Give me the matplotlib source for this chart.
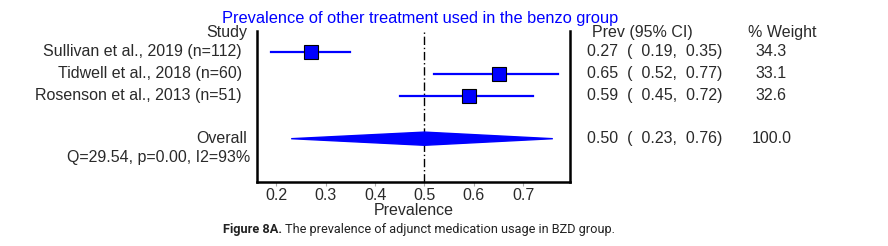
import numpy as np
import matplotlib.pyplot as plt
from matplotlib.patches import Polygon
from matplotlib.transforms import blended_transform_factory

plt.rcParams['font.family'] = ['Liberation Sans', 'DejaVu Sans']

# data
studies = ["Sullivan et al., 2019 (n=112)", "Tidwell et al., 2018 (n=60)", "Rosenson et al., 2013 (n=51)"]
prev = [0.27, 0.65, 0.59]
lower = [0.19, 0.52, 0.45]
upper = [0.35, 0.77, 0.72]
weight = [34.3, 33.1, 32.6]
overall = (0.50, 0.23, 0.76)
overall_weight = 100.0
het_text = "Q=29.54, p=0.00, I2=93%"
xticks = [0.2, 0.3, 0.4, 0.5, 0.6, 0.7]

fig = plt.figure(figsize=(8.88, 2.46), dpi=100)
ax = fig.add_axes([0.289, 0.262, 0.353, 0.612])

ys = np.arange(len(studies))
y_over = 3.95
txt = '#2a2a2a'

# reference line at pooled estimate
ax.axvline(overall[0], color='black', lw=1, linestyle=(0, (6, 2, 1, 2)), zorder=1)

# study CIs and squares
for y, p, lo, hi, w in zip(ys, prev, lower, upper, weight):
    ax.plot([lo, hi], [y, y], color='blue', lw=1.6, zorder=2)
    ax.plot(p, y, marker='s', color='blue', mec='black', mew=0.8,
            ms=10 * np.sqrt(w / max(weight)), zorder=3)

# overall diamond
h = 0.3
diamond = Polygon([[overall[1], y_over], [overall[0], y_over - h],
                   [overall[2], y_over], [overall[0], y_over + h]],
                  closed=True, color='blue', zorder=3)
ax.add_patch(diamond)

fs = 11.5
ax.set_xlim(0.16, 0.795)
ax.set_ylim(5.9, -0.95)
ax.set_yticks([])
ax.set_xticks(xticks)
ax.set_xticklabels([f"{t:.1f}" for t in xticks])
ax.tick_params(axis='x', length=3, color='#aaaaaa', labelsize=fs, labelcolor=txt, pad=2)
ax.spines['top'].set_visible(False)
for s in ['left', 'right', 'bottom']:
    ax.spines[s].set_linewidth(1.8)
ax.set_xlabel("Prevalence", fontsize=fs, color=txt, labelpad=0)

# text columns
tr = blended_transform_factory(fig.transFigure, ax.transData)
ax.text(247 / 888, -0.86, "Study", transform=tr, ha='right', va='center', fontsize=fs, color=txt)
for y, name in zip(ys, studies):
    ax.text(242 / 888, y, name, transform=tr, ha='right', va='center', fontsize=fs, color=txt)
ax.text(247 / 888, y_over, "Overall", transform=tr, ha='right', va='center', fontsize=fs, color=txt)
ax.text(250 / 888, y_over + 0.86, het_text, transform=tr, ha='right', va='center', fontsize=fs, color=txt)

ax.text(592 / 888, -0.86, "Prev (95% CI)", transform=tr, ha='left', va='center', fontsize=fs, color=txt)
ax.text(748 / 888, -0.86, "% Weight", transform=tr, ha='left', va='center', fontsize=fs, color=txt)
for y, p, lo, hi, w in zip(ys, prev, lower, upper, weight):
    ax.text(587 / 888, y, f"{p:.2f}  (  {lo:.2f},  {hi:.2f})", transform=tr,
            ha='left', va='center', fontsize=fs, color=txt)
    ax.text(755 / 888, y, f"{w:.1f}", transform=tr, ha='left', va='center', fontsize=fs, color=txt)
ax.text(587 / 888, y_over, f"{overall[0]:.2f}  (  {overall[1]:.2f},  {overall[2]:.2f})", transform=tr,
        ha='left', va='center', fontsize=fs, color=txt)
ax.text(752 / 888, y_over, f"{overall_weight:.1f}", transform=tr, ha='left', va='center', fontsize=fs, color=txt)

fig.text(420 / 888, 1 - 18 / 246, "Prevalence of other treatment used in the benzo group",
         ha='center', va='center', fontsize=11.8, color='blue')

# caption: bold label followed by normal text
cap1 = fig.text(223 / 888, 1 - 229 / 246, "Figure 8A.", ha='left', va='center', fontsize=9.2,
                fontweight='bold', family='Roboto', color='#222222')
fig.canvas.draw()
bb = cap1.get_window_extent()
fig.text((bb.x1 + 3) / 888, 1 - 229 / 246, "The prevalence of adjunct medication usage in BZD group.",
         ha='left', va='center', fontsize=9.2, family='Roboto', color='#222222')

fig.savefig("out.png", dpi=100)
